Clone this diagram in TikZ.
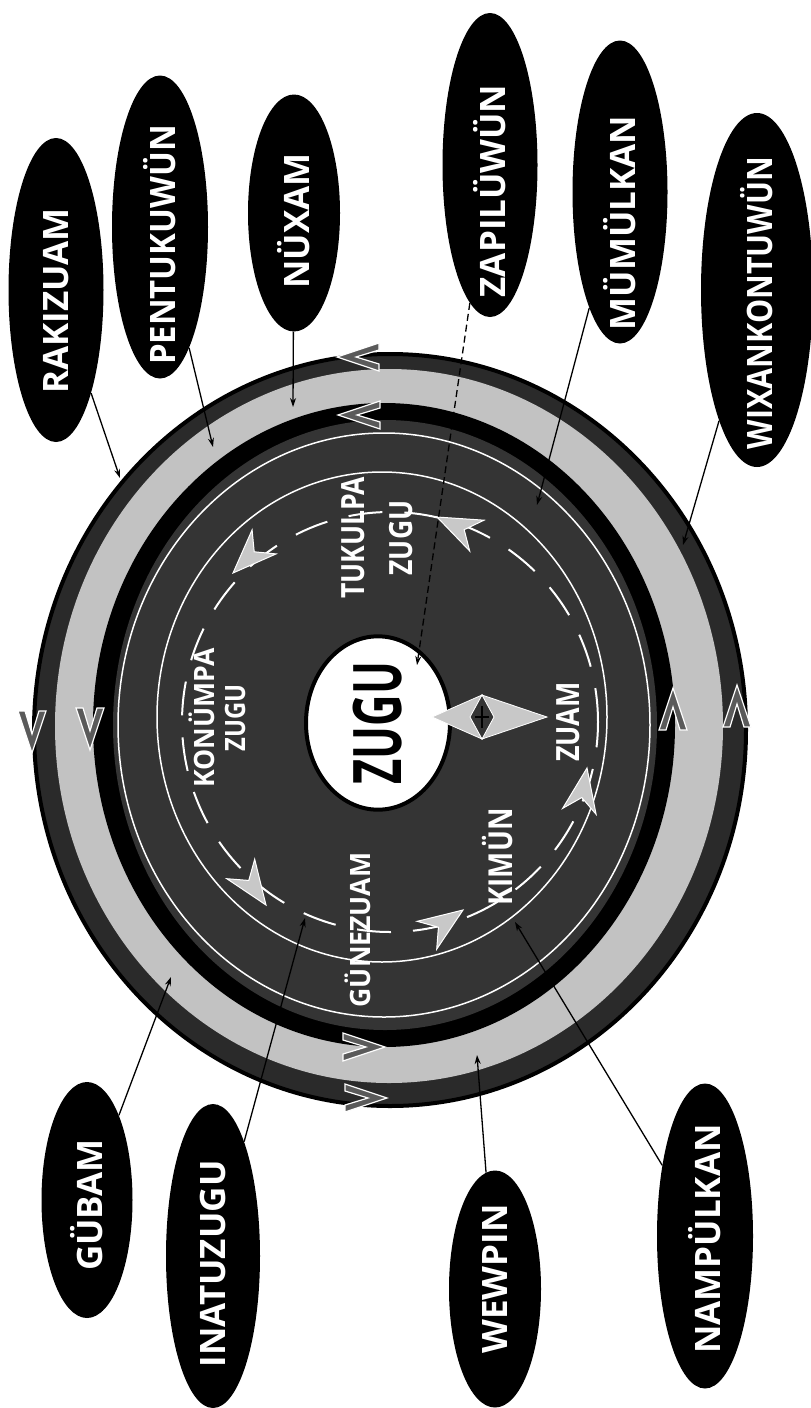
\documentclass[tikz,border=0pt]{standalone}
\usepackage{fontspec}
\setmainfont{Open Sans}
\usetikzlibrary{shapes.geometric, arrows.meta}
\definecolor{ringdark}{HTML}{2A2A2A}
\definecolor{ringlight}{HTML}{C2C2C2}
\definecolor{diskdark}{HTML}{343434}
\definecolor{chevfill}{HTML}{5A5A5A}
\definecolor{arrowgray}{HTML}{C8C8C8}
\newcommand{\ringchev}[3]{%
  \filldraw[fill=chevfill, draw=white, line width=1.2pt, shift={(#1,#2)}, rotate=#3]
   (0pt,0pt) -- (14pt,42pt) -- (7pt,42pt) -- (0pt,19pt) -- (-7pt,42pt) -- (-14pt,42pt) -- cycle;}
\newcommand{\cyclehead}[3]{%
  \filldraw[fill=arrowgray, draw=white, line width=1pt, shift={(#1,#2)}, rotate=#3]
   (0pt,0pt) -- (17pt,44pt) -- (0pt,30pt) -- (-17pt,44pt) -- cycle;}
% label text: zero-width box, shifted down the page by #1/2
\newcommand{\labtext}[3]{\makebox[0pt]{\scalebox{#2}[1]{#3}\hspace*{#1}}}
\begin{document}
\begin{tikzpicture}[x=1pt, y=-1pt,
  lab/.style={ellipse, fill=black, text=white, rotate=90, inner sep=0pt,
    font=\bfseries\fontsize{35}{40}\selectfont},
  conn/.style={line width=1.3pt, -{Stealth[length=9pt,width=6pt]}},
  intxt/.style={text=white, rotate=90, align=center, inner sep=0pt},
]
\useasboundingbox (0,0) rectangle (811,1408);
\fill[white] (0,0) rectangle (811,1408);

% rings
\draw[fill=ringdark, line width=4pt] (390,730) ellipse [x radius=356pt, y radius=376pt];
\fill[ringlight] (389,726) ellipse [x radius=334pt, y radius=357pt];
\fill[black] (384,725) ellipse [x radius=291pt, y radius=322pt];
\fill[diskdark] (385,725) ellipse [x radius=272pt, y radius=305pt];
\draw[white, line width=1.5pt] (384,725) ellipse [x radius=266pt, y radius=292pt];
\draw[white, line width=1.5pt] (382,717) ellipse [x radius=225pt, y radius=245pt];
\draw[white, line width=2pt, dash pattern=on 34pt off 22pt] (390,722) ellipse [x radius=208pt, y radius=210pt];

% central disk
\node[ellipse, rotate=90, draw=black, line width=4pt, fill=white, minimum width=160pt,
  minimum height=144pt, inner sep=0pt, font=\bfseries\fontsize{67}{70}\selectfont]
  (zugu) at (378,723) {\scalebox{0.65}[1]{ZUGU}};

% inner texts
\node[intxt, font=\bfseries\fontsize{32}{48}\selectfont] (tuk) at (377,538)
  {\scalebox{0.83}[1]{TUKULPA}\\\scalebox{0.83}[1]{ZUGU}};
\node[intxt, font=\bfseries\fontsize{28}{31}\selectfont] (kon) at (217,718)
  {\scalebox{0.95}[1]{KONÜMPA}\\\scalebox{0.85}[1]{ZUGU}};
\node[intxt, font=\bfseries\fontsize{32}{36}\selectfont] (zuam) at (568,722)
  {\scalebox{0.84}[1]{ZUAM}};
\node[intxt, font=\bfseries\fontsize{33}{36}\selectfont] (kim) at (498,857)
  {\scalebox{0.84}[1]{KIMÜN}};
\node[intxt, font=\bfseries\fontsize{28}{31}\selectfont] (gun) at (358,930)
  {\scalebox{0.95}[1]{GÜNEZUAM}};

% cycle arrowheads
\cyclehead{233}{573}{-45}
\cyclehead{437}{517}{-115}
\cyclehead{587}{768}{170}
\cyclehead{266}{905}{35}
\cyclehead{463}{910}{125}

% double arrow zugu -> zuam
\filldraw[fill=arrowgray, draw=white, line width=0.8pt]
  (432,717) -- (482,695) -- (470,717) -- (482,739) -- cycle;
\filldraw[fill=arrowgray, draw=white, line width=0.8pt]
  (547,717) -- (482,695) -- (494,717) -- (482,739) -- cycle;
\draw[line width=1.5pt] (482,706) -- (482,728);
\draw[line width=1.5pt] (475,717) -- (489,717);

% ring chevrons
\ringchev{32}{753}{0}
\ringchev{90}{750}{0}
\ringchev{673}{688}{180}
\ringchev{737}{685}{180}
\ringchev{337}{357}{-90}
\ringchev{338}{415}{-90}
\ringchev{385}{1047}{90}
\ringchev{387}{1098}{90}

% labels
\node[lab, minimum width=304pt, minimum height=95pt] (rak) at (56,290) {\labtext{22pt}{1}{RAKIZUAM}};
\node[lab, minimum width=303pt, minimum height=96pt] (pen) at (160,227) {\labtext{36pt}{0.94}{PENTUKUWÜN}};
\node[lab, minimum width=237pt, minimum height=92pt] (nux) at (294,213) {\labtext{16pt}{1}{NÜXAM}};
\node[lab, minimum width=304pt, minimum height=95pt] (zap) at (490,165) {\labtext{52pt}{1}{ZAPILÜWÜN}};
\node[lab, minimum width=303pt, minimum height=95pt] (mum) at (620,192) {\labtext{62pt}{1}{MÜMÜLKAN}};
\node[lab, minimum width=354pt, minimum height=112pt] (wix) at (757,290) {\labtext{26pt}{0.87}{WIXANKONTUWÜN}};
\node[lab, minimum width=236pt, minimum height=91pt] (gub) at (87,1200) {\labtext{10pt}{1}{GÜBAM}};
\node[lab, minimum width=304pt, minimum height=94pt] (ina) at (213,1256) {\labtext{16pt}{1}{INATUZUGU}};
\node[lab, minimum width=237pt, minimum height=92pt] (wew) at (495,1289) {\labtext{-20pt}{1}{WEWPIN}};
\node[lab, minimum width=305pt, minimum height=96pt] (nam) at (705,1236) {\labtext{6pt}{1}{NAMPÜLKAN}};

% connector targets
\coordinate (tRak) at (120,478);
\coordinate (tPen) at (213,447);
\coordinate (tNux) at (293,407);
\coordinate (tZap) at (417,665);
\coordinate (tMum) at (537,505);
\coordinate (tWix) at (683,545);
\coordinate (tGub) at (171,977);
\coordinate (tIna) at (305,918);
\coordinate (tWew) at (477,1055);
\coordinate (tNam) at (515,922);

\draw[conn] (rak) -- (tRak);
\draw[conn] (pen) -- (tPen);
\draw[conn] (nux) -- (tNux);
\draw[conn, dash pattern=on 7pt off 4pt] (zap) -- (tZap);
\draw[conn] (mum) -- (tMum);
\draw[conn] (wix) -- (tWix);
\draw[conn] (gub) -- (tGub);
\draw[conn] (ina) -- (tIna);
\draw[conn] (wew) -- (tWew);
\draw[conn] (nam) -- (tNam);
\end{tikzpicture}
\end{document}
